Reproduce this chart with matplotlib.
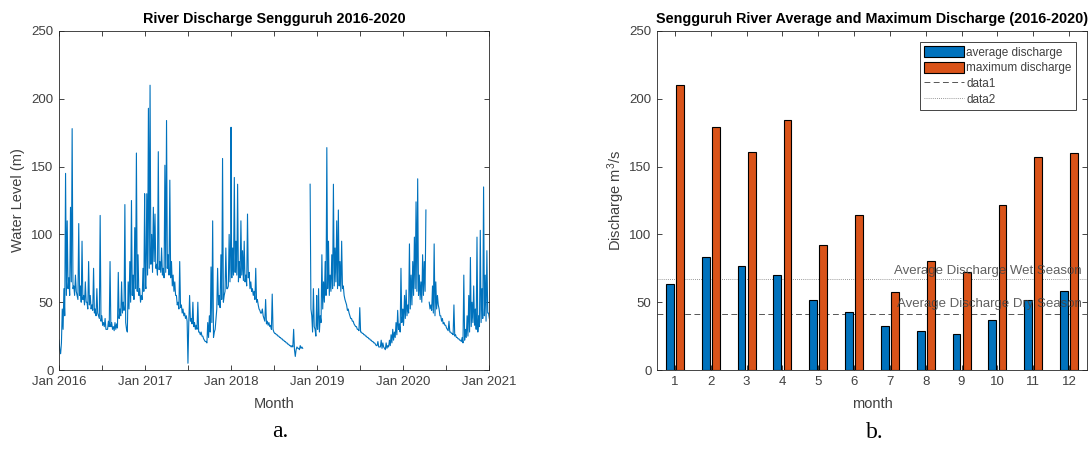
import numpy as np
import pandas as pd
import matplotlib
matplotlib.use('Agg')
import matplotlib.pyplot as plt
import matplotlib.dates as mdates
from matplotlib.patches import Patch
from matplotlib.lines import Line2D

plt.rcParams['font.family'] = ['Liberation Sans', 'DejaVu Sans']
plt.rcParams['mathtext.default'] = 'regular'

BLUE = '#0072BD'
ORANGE = '#D95319'
AXCOL = '#262626'
TICKCOL = '#404040'
nan = np.nan

# discharge, roughly one value per week, starting 1 Jan of each year
q2016 = [22, 12, 45, 60, 145, 110, 68, 120, 178, 62,
         70, 55, 108, 62, 95, 55, 65, 50, 80, 55,
         48, 75, 45, 60, 40, 114, 40, 35, 38, 30,
         36, 80, 35, 32, 35, 34, 72, 45, 65, 50,
         122, 30, 65, 80, 125, 70, 105, 160, 85, 60,
         55, 75, 130]
q2017 = [85, 130, 193, 210, 100, 120, 115, 78, 161, 80,
         90, 75, 151, 184, 85, 140, 80, 70, 65, 55,
         50, 80, 48, 45, 42, 40, 5, 55, 38, 50,
         35, 33, 50, 28, 28, 25, 22, 21, 35, 40,
         76, 110, 28, 38, 75, 55, 85, 156, 55, 90,
         60, 100, 100]
q2018 = [179, 90, 142, 95, 137, 80, 110, 88, 95, 70,
         115, 72, 65, 60, 58, 75, 52, 45, 42, 45,
         38, 52, 36, 35, 33, 56, 28, 27, 26, 25,
         24, 23, 22, 21, 20, 19, 18, 18, 30, 10,
         17, 16, 18, 17, nan, nan, nan, nan, 137, 40,
         60, 30, 55]
q2019 = [35, 60, 40, 85, 65, 80, 164, 95, 70, 85,
         137, 90, 110, 118, 80, 95, 62, 52, 48, 45,
         40, 38, 36, 33, 32, 30, 46, 28, 27, 26,
         25, 24, 23, 22, 21, 20, 18, 21, 17, 22,
         20, 16, 20, 18, 22, 26, 30, 28, 35, 44,
         34, 75, 40]
q2020 = [45, 55, 59, 48, 93, 70, 80, 98, 124, 141,
         70, 65, 85, 80, 118, nan, 50, 48, 62, 93,
         65, 55, 45, 40, 38, 35, 33, 30, 36, 28,
         27, 48, 26, 24, 23, 22, 24, 70, 30, 40,
         55, 83, 50, 62, 45, 98, 40, 103, 60, 135,
         70, 88, 42]

# lower edge of the daily band, read half a week later than the values above
low2016 = [15, 20, 30, 40, 55, 60, 55, 65, 60, 55,
           58, 52, 55, 50, 52, 48, 50, 45, 48, 45,
           44, 42, 40, 42, 38, 36, 33, 32, 30, 30,
           32, 32, 30, 29, 30, 31, 38, 40, 42, 44,
           35, 28, 45, 50, 55, 52, 60, 58, 55, 50,
           52, 58, 62]
low2017 = [60, 70, 75, 78, 72, 80, 75, 70, 74, 72,
           70, 68, 72, 75, 70, 68, 62, 58, 55, 48,
           45, 46, 42, 40, 38, 36, 35, 36, 34, 32,
           30, 30, 28, 26, 25, 23, 21, 20, 24, 28,
           35, 24, 30, 45, 48, 46, 52, 50, 58, 60,
           62, 65, 70]
low2018 = [68, 70, 72, 70, 65, 68, 70, 66, 65, 62,
           68, 60, 58, 55, 52, 50, 48, 44, 42, 40,
           36, 34, 33, 32, 30, 30, 27, 26, 25, 24,
           23, 22, 21, 20, 19, 18, 17, 17, 15, 15,
           16, 15, 16, 16, nan, nan, nan, nan, 45, 28,
           32, 25, 30]
low2019 = [30, 28, 35, 45, 50, 55, 60, 55, 58, 60,
           62, 65, 60, 62, 58, 60, 55, 50, 44, 42,
           38, 36, 34, 32, 30, 29, 28, 27, 26, 25,
           24, 23, 22, 21, 20, 19, 18, 17, 17, 16,
           17, 15, 16, 17, 18, 20, 22, 24, 26, 30,
           28, 35, 33]
low2020 = [35, 38, 40, 42, 45, 48, 55, 60, 58, 55,
           52, 50, 55, 58, nan, nan, 45, 44, 42, 40,
           45, 48, 40, 36, 34, 33, 31, 29, 28, 27,
           26, 25, 24, 23, 22, 21, 20, 22, 24, 25,
           28, 32, 35, 33, 30, 28, 32, 35, 38, 40,
           36, 42, 38]

yearly = {'2016-01-01': (q2016, low2016), '2017-01-01': (q2017, low2017),
          '2018-01-01': (q2018, low2018), '2019-01-01': (q2019, low2019),
          '2020-01-01': (q2020, low2020)}

months = list(range(1, 13))
avg_discharge = [63.5, 83.1, 76.5, 69.9, 51.7, 43.0, 32.7, 29.0, 26.3, 37.2, 51.9, 58.6]
max_discharge = [210.4, 179.0, 160.7, 184.6, 92.0, 114.0, 57.8, 80.7, 72.0, 121.6, 156.8, 159.8]
wet_avg = 67.4
dry_avg = 41.6

parts = []
for start, (vals, lows) in yearly.items():
    t0 = pd.Timestamp(start)
    parts.append(pd.Series(vals, index=pd.date_range(t0, periods=len(vals), freq='7D')))
    parts.append(pd.Series(lows, index=pd.date_range(t0 + pd.Timedelta(hours=84),
                                                     periods=len(lows), freq='7D')))
flow = pd.concat(parts).sort_index()


def style_axes(ax):
    for s in ax.spines.values():
        s.set_color(AXCOL)
        s.set_linewidth(0.6)
    ax.tick_params(direction='in', top=True, right=True, length=3.5, width=0.6,
                   color=AXCOL, labelcolor=TICKCOL, labelsize=9.5, pad=4)


fig = plt.figure(figsize=(10.92, 4.49), dpi=100)
ax1 = fig.add_axes([0.0540, 0.1759, 0.3938, 0.7551])
ax2 = fig.add_axes([0.6016, 0.1759, 0.3938, 0.7551])

# a. time series
ax1.plot(flow.index, flow.values, color=BLUE, linewidth=0.8)
ax1.set_xlim(pd.Timestamp('2016-01-01'), pd.Timestamp('2021-01-01'))
ax1.set_ylim(0, 250)
ax1.set_yticks(range(0, 251, 50))
ax1.xaxis.set_major_locator(mdates.MonthLocator(bymonth=[1, 7]))
ax1.xaxis.set_major_formatter(
    plt.FuncFormatter(lambda x, pos: mdates.num2date(x).strftime('Jan %Y')
                      if mdates.num2date(x).month == 1 else ''))
style_axes(ax1)
ax1.set_title('River Discharge Sengguruh 2016-2020', fontsize=10.4,
              fontweight='bold', pad=6)
ax1.set_xlabel('Month', fontsize=10.5, color=TICKCOL, va='center')
ax1.xaxis.set_label_coords(0.5, -0.100)
ax1.set_ylabel('Water Level (m)', fontsize=10.5, color=TICKCOL, va='center')
ax1.yaxis.set_label_coords(-0.095, 0.5)

# b. monthly bars
x = np.array(months)
ax2.bar(x - 0.142, avg_discharge, width=0.22, color=BLUE, edgecolor='black',
        linewidth=0.8, zorder=3)
ax2.bar(x + 0.142, max_discharge, width=0.22, color=ORANGE, edgecolor='black',
        linewidth=0.8, zorder=3)
ax2.axhline(dry_avg, color='#555555', linewidth=0.7, dashes=(6, 3.5), zorder=2)
ax2.axhline(wet_avg, color='#777777', linewidth=0.6, dashes=(1, 1.5), zorder=2)
ax2.text(12.35, 73.3, 'Average Discharge Wet Season', ha='right', va='center',
         fontsize=9.5, color='#444444', alpha=0.85, zorder=4)
ax2.text(12.35, 49.0, 'Average Discharge Dry Season', ha='right', va='center',
         fontsize=9.5, color='#444444', alpha=0.85, zorder=4)
ax2.set_xlim(0.5, 12.5)
ax2.set_ylim(0, 250)
ax2.set_xticks(months)
ax2.set_yticks(range(0, 251, 50))
style_axes(ax2)
ax2.set_title('Sengguruh River Average and Maximum Discharge (2016-2020)',
              fontsize=10.4, fontweight='bold', pad=6)
ax2.set_xlabel('month', fontsize=10.5, color=TICKCOL, va='center')
ax2.xaxis.set_label_coords(0.5, -0.100)
ax2.set_ylabel('Discharge m$^3$/s', fontsize=10.5, color=TICKCOL, va='center')
ax2.yaxis.set_label_coords(-0.095, 0.5)

handles = [Patch(facecolor=BLUE, edgecolor='black', linewidth=0.8),
           Patch(facecolor=ORANGE, edgecolor='black', linewidth=0.8),
           Line2D([], [], color='#555555', linewidth=0.7, dashes=(6, 3.5)),
           Line2D([], [], color='#777777', linewidth=0.6, dashes=(1, 1.5))]
labels = ['average discharge', 'maximum discharge', 'data1', 'data2']
leg = ax2.legend(handles, labels, loc='upper right', bbox_to_anchor=(0.974, 0.968),
                 borderaxespad=0, fontsize=8.5, frameon=True, fancybox=False,
                 framealpha=1, edgecolor=AXCOL, handlelength=3.4, handleheight=1.1,
                 handletextpad=0.2, labelspacing=0.25, borderpad=0.35)
leg.get_frame().set_linewidth(0.6)
for t in leg.get_texts():
    t.set_color(TICKCOL)

fig.text(0.257, 0.038, 'a.', family='Liberation Serif', fontsize=17,
         ha='center', va='center')
fig.text(0.801, 0.036, 'b.', family='Liberation Serif', fontsize=17,
         ha='center', va='center')

fig.savefig('out.png', dpi=100)
